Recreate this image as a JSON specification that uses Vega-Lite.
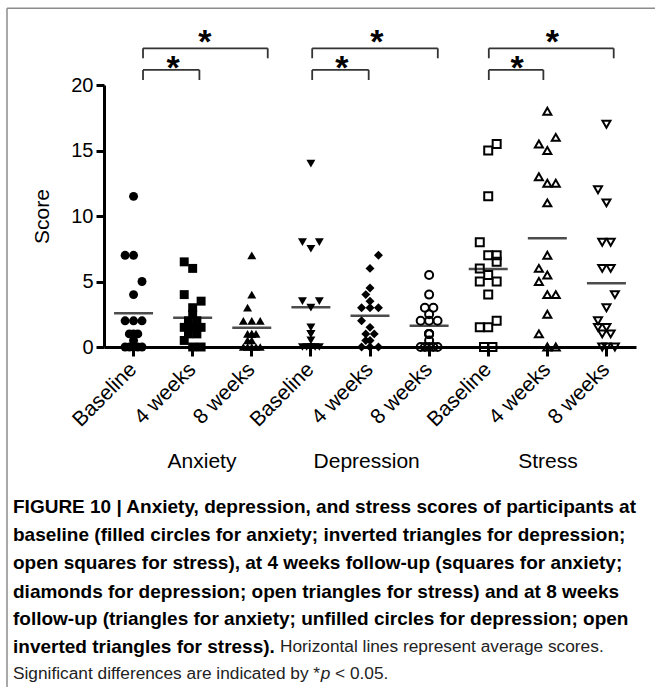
{
  "$schema": "https://vega.github.io/schema/vega-lite/v6.json",
  "width": 532,
  "height": 262,
  "autosize": {"type": "none"},
  "padding": {"left": 104, "top": 85, "right": 19, "bottom": 340},
  "background": "white",
  "config": {"font": "Liberation Sans", "view": {"stroke": null}},
  "datasets": {
    "scores": [
      {"measure":"Anxiety","time":"Baseline","score":11.5,"slot":0},
      {"measure":"Anxiety","time":"Baseline","score":7,"slot":-2},
      {"measure":"Anxiety","time":"Baseline","score":7,"slot":0},
      {"measure":"Anxiety","time":"Baseline","score":5,"slot":2},
      {"measure":"Anxiety","time":"Baseline","score":4,"slot":0},
      {"measure":"Anxiety","time":"Baseline","score":2,"slot":-2},
      {"measure":"Anxiety","time":"Baseline","score":2,"slot":0},
      {"measure":"Anxiety","time":"Baseline","score":2,"slot":2},
      {"measure":"Anxiety","time":"Baseline","score":1,"slot":0},
      {"measure":"Anxiety","time":"Baseline","score":1,"slot":-1},
      {"measure":"Anxiety","time":"Baseline","score":1,"slot":1},
      {"measure":"Anxiety","time":"Baseline","score":0.5,"slot":0},
      {"measure":"Anxiety","time":"Baseline","score":0,"slot":-2},
      {"measure":"Anxiety","time":"Baseline","score":0,"slot":0},
      {"measure":"Anxiety","time":"Baseline","score":0,"slot":2},
      {"measure":"Anxiety","time":"Baseline","score":0,"slot":-1},
      {"measure":"Anxiety","time":"Baseline","score":0,"slot":1},
      {"measure":"Anxiety","time":"4 weeks","score":6.5,"slot":-2},
      {"measure":"Anxiety","time":"4 weeks","score":6,"slot":0},
      {"measure":"Anxiety","time":"4 weeks","score":4,"slot":-2},
      {"measure":"Anxiety","time":"4 weeks","score":3.5,"slot":2},
      {"measure":"Anxiety","time":"4 weeks","score":3,"slot":0},
      {"measure":"Anxiety","time":"4 weeks","score":2.5,"slot":0},
      {"measure":"Anxiety","time":"4 weeks","score":2,"slot":-1},
      {"measure":"Anxiety","time":"4 weeks","score":2,"slot":1},
      {"measure":"Anxiety","time":"4 weeks","score":1.5,"slot":-2},
      {"measure":"Anxiety","time":"4 weeks","score":1.5,"slot":2},
      {"measure":"Anxiety","time":"4 weeks","score":1.5,"slot":0},
      {"measure":"Anxiety","time":"4 weeks","score":1.5,"slot":0},
      {"measure":"Anxiety","time":"4 weeks","score":1,"slot":1},
      {"measure":"Anxiety","time":"4 weeks","score":1,"slot":-1},
      {"measure":"Anxiety","time":"4 weeks","score":0.5,"slot":-2},
      {"measure":"Anxiety","time":"4 weeks","score":0,"slot":0},
      {"measure":"Anxiety","time":"4 weeks","score":0,"slot":2},
      {"measure":"Anxiety","time":"8 weeks","score":7,"slot":0},
      {"measure":"Anxiety","time":"8 weeks","score":4,"slot":0},
      {"measure":"Anxiety","time":"8 weeks","score":3,"slot":-1},
      {"measure":"Anxiety","time":"8 weeks","score":2,"slot":-2},
      {"measure":"Anxiety","time":"8 weeks","score":2,"slot":0},
      {"measure":"Anxiety","time":"8 weeks","score":2,"slot":2},
      {"measure":"Anxiety","time":"8 weeks","score":1,"slot":0},
      {"measure":"Anxiety","time":"8 weeks","score":1,"slot":-1},
      {"measure":"Anxiety","time":"8 weeks","score":1,"slot":1},
      {"measure":"Anxiety","time":"8 weeks","score":1,"slot":0},
      {"measure":"Anxiety","time":"8 weeks","score":0.5,"slot":0},
      {"measure":"Anxiety","time":"8 weeks","score":0.5,"slot":-1},
      {"measure":"Anxiety","time":"8 weeks","score":0,"slot":-2},
      {"measure":"Anxiety","time":"8 weeks","score":0,"slot":0},
      {"measure":"Anxiety","time":"8 weeks","score":0,"slot":2},
      {"measure":"Anxiety","time":"8 weeks","score":0,"slot":-1},
      {"measure":"Anxiety","time":"8 weeks","score":0,"slot":1},
      {"measure":"Depression","time":"Baseline","score":14,"slot":0},
      {"measure":"Depression","time":"Baseline","score":8,"slot":-2},
      {"measure":"Depression","time":"Baseline","score":8,"slot":2},
      {"measure":"Depression","time":"Baseline","score":7.5,"slot":0},
      {"measure":"Depression","time":"Baseline","score":3.5,"slot":-2},
      {"measure":"Depression","time":"Baseline","score":3.5,"slot":2},
      {"measure":"Depression","time":"Baseline","score":3,"slot":0},
      {"measure":"Depression","time":"Baseline","score":1.5,"slot":0},
      {"measure":"Depression","time":"Baseline","score":1,"slot":0},
      {"measure":"Depression","time":"Baseline","score":1,"slot":0},
      {"measure":"Depression","time":"Baseline","score":0.5,"slot":0},
      {"measure":"Depression","time":"Baseline","score":0,"slot":-2},
      {"measure":"Depression","time":"Baseline","score":0,"slot":-1},
      {"measure":"Depression","time":"Baseline","score":0,"slot":0},
      {"measure":"Depression","time":"Baseline","score":0,"slot":1},
      {"measure":"Depression","time":"Baseline","score":0,"slot":2},
      {"measure":"Depression","time":"Baseline","score":0,"slot":0},
      {"measure":"Depression","time":"4 weeks","score":7,"slot":2},
      {"measure":"Depression","time":"4 weeks","score":6,"slot":0},
      {"measure":"Depression","time":"4 weeks","score":4.5,"slot":0},
      {"measure":"Depression","time":"4 weeks","score":4,"slot":-1},
      {"measure":"Depression","time":"4 weeks","score":3.5,"slot":0},
      {"measure":"Depression","time":"4 weeks","score":3,"slot":-2},
      {"measure":"Depression","time":"4 weeks","score":3,"slot":2},
      {"measure":"Depression","time":"4 weeks","score":3,"slot":0},
      {"measure":"Depression","time":"4 weeks","score":2,"slot":-2},
      {"measure":"Depression","time":"4 weeks","score":1.5,"slot":0},
      {"measure":"Depression","time":"4 weeks","score":1,"slot":-1},
      {"measure":"Depression","time":"4 weeks","score":1,"slot":1},
      {"measure":"Depression","time":"4 weeks","score":0.5,"slot":0},
      {"measure":"Depression","time":"4 weeks","score":0.5,"slot":-1},
      {"measure":"Depression","time":"4 weeks","score":0,"slot":-2},
      {"measure":"Depression","time":"4 weeks","score":0,"slot":0},
      {"measure":"Depression","time":"4 weeks","score":0,"slot":2},
      {"measure":"Depression","time":"8 weeks","score":5.5,"slot":0},
      {"measure":"Depression","time":"8 weeks","score":4,"slot":0},
      {"measure":"Depression","time":"8 weeks","score":3,"slot":-1},
      {"measure":"Depression","time":"8 weeks","score":3,"slot":1},
      {"measure":"Depression","time":"8 weeks","score":2.5,"slot":0},
      {"measure":"Depression","time":"8 weeks","score":2,"slot":-2},
      {"measure":"Depression","time":"8 weeks","score":2,"slot":0},
      {"measure":"Depression","time":"8 weeks","score":2,"slot":2},
      {"measure":"Depression","time":"8 weeks","score":1,"slot":0},
      {"measure":"Depression","time":"8 weeks","score":1,"slot":0},
      {"measure":"Depression","time":"8 weeks","score":1,"slot":0},
      {"measure":"Depression","time":"8 weeks","score":0.5,"slot":0},
      {"measure":"Depression","time":"8 weeks","score":0,"slot":-2},
      {"measure":"Depression","time":"8 weeks","score":0,"slot":-1},
      {"measure":"Depression","time":"8 weeks","score":0,"slot":0},
      {"measure":"Depression","time":"8 weeks","score":0,"slot":1},
      {"measure":"Depression","time":"8 weeks","score":0,"slot":2},
      {"measure":"Stress","time":"Baseline","score":15.5,"slot":2},
      {"measure":"Stress","time":"Baseline","score":15,"slot":0},
      {"measure":"Stress","time":"Baseline","score":11.5,"slot":0},
      {"measure":"Stress","time":"Baseline","score":8,"slot":-2},
      {"measure":"Stress","time":"Baseline","score":7,"slot":0},
      {"measure":"Stress","time":"Baseline","score":7,"slot":2},
      {"measure":"Stress","time":"Baseline","score":6.5,"slot":2},
      {"measure":"Stress","time":"Baseline","score":6,"slot":-2},
      {"measure":"Stress","time":"Baseline","score":5.5,"slot":0},
      {"measure":"Stress","time":"Baseline","score":5,"slot":-2},
      {"measure":"Stress","time":"Baseline","score":5,"slot":2},
      {"measure":"Stress","time":"Baseline","score":4,"slot":0},
      {"measure":"Stress","time":"Baseline","score":2,"slot":2},
      {"measure":"Stress","time":"Baseline","score":1.5,"slot":-2},
      {"measure":"Stress","time":"Baseline","score":1.5,"slot":0},
      {"measure":"Stress","time":"Baseline","score":0,"slot":-1},
      {"measure":"Stress","time":"Baseline","score":0,"slot":1},
      {"measure":"Stress","time":"4 weeks","score":18,"slot":0},
      {"measure":"Stress","time":"4 weeks","score":16,"slot":2},
      {"measure":"Stress","time":"4 weeks","score":15.5,"slot":-2},
      {"measure":"Stress","time":"4 weeks","score":15,"slot":0},
      {"measure":"Stress","time":"4 weeks","score":13,"slot":-2},
      {"measure":"Stress","time":"4 weeks","score":12.5,"slot":0},
      {"measure":"Stress","time":"4 weeks","score":12.5,"slot":2},
      {"measure":"Stress","time":"4 weeks","score":11,"slot":0},
      {"measure":"Stress","time":"4 weeks","score":7,"slot":0},
      {"measure":"Stress","time":"4 weeks","score":6,"slot":-2},
      {"measure":"Stress","time":"4 weeks","score":5.5,"slot":0},
      {"measure":"Stress","time":"4 weeks","score":5,"slot":-2},
      {"measure":"Stress","time":"4 weeks","score":4,"slot":0},
      {"measure":"Stress","time":"4 weeks","score":4,"slot":2},
      {"measure":"Stress","time":"4 weeks","score":2.5,"slot":0},
      {"measure":"Stress","time":"4 weeks","score":1,"slot":-2},
      {"measure":"Stress","time":"4 weeks","score":0,"slot":0},
      {"measure":"Stress","time":"4 weeks","score":0,"slot":2},
      {"measure":"Stress","time":"8 weeks","score":17,"slot":0},
      {"measure":"Stress","time":"8 weeks","score":12,"slot":-2},
      {"measure":"Stress","time":"8 weeks","score":11,"slot":0},
      {"measure":"Stress","time":"8 weeks","score":8,"slot":-1},
      {"measure":"Stress","time":"8 weeks","score":8,"slot":1},
      {"measure":"Stress","time":"8 weeks","score":6,"slot":-1},
      {"measure":"Stress","time":"8 weeks","score":6,"slot":1},
      {"measure":"Stress","time":"8 weeks","score":4,"slot":2},
      {"measure":"Stress","time":"8 weeks","score":3,"slot":0},
      {"measure":"Stress","time":"8 weeks","score":2,"slot":-2},
      {"measure":"Stress","time":"8 weeks","score":1.5,"slot":-2},
      {"measure":"Stress","time":"8 weeks","score":1.5,"slot":0},
      {"measure":"Stress","time":"8 weeks","score":1,"slot":-1},
      {"measure":"Stress","time":"8 weeks","score":1,"slot":1},
      {"measure":"Stress","time":"8 weeks","score":0,"slot":0},
      {"measure":"Stress","time":"8 weeks","score":0,"slot":2},
      {"measure":"Stress","time":"8 weeks","score":0,"slot":-1}
    ],
    "means": [
      {"measure":"Anxiety","time":"Baseline","score":2.57},
      {"measure":"Anxiety","time":"4 weeks","score":2.24},
      {"measure":"Anxiety","time":"8 weeks","score":1.47},
      {"measure":"Depression","time":"Baseline","score":3.03},
      {"measure":"Depression","time":"4 weeks","score":2.39},
      {"measure":"Depression","time":"8 weeks","score":1.63},
      {"measure":"Stress","time":"Baseline","score":5.95},
      {"measure":"Stress","time":"4 weeks","score":8.3},
      {"measure":"Stress","time":"8 weeks","score":4.86}
    ],
    "frame": [
      {"edge":"top","x":-1.141,"x2":9.821,"y":25.855,"y2":25.855},
      {"edge":"left","x":-1.141,"x2":-1.141,"y":25.855,"y2":-25.95}
    ],
    "brackets": [
      {"measure":"Anxiety","pair":"Baseline vs 8 weeks","sig":"*","x1":1.16,"x2":3.27,"y":22.8,"leg":22.04,"xs":2.205,"ys":22.45},
      {"measure":"Anxiety","pair":"Baseline vs 4 weeks","sig":"*","x1":1.16,"x2":2.114,"y":21.15,"leg":20.38,"xs":1.671,"ys":20.42},
      {"measure":"Depression","pair":"Baseline vs 8 weeks","sig":"*","x1":4.022,"x2":6.147,"y":22.8,"leg":22.04,"xs":5.118,"ys":22.45},
      {"measure":"Depression","pair":"Baseline vs 4 weeks","sig":"*","x1":4.022,"x2":4.978,"y":21.15,"leg":20.38,"xs":4.526,"ys":20.42},
      {"measure":"Stress","pair":"Baseline vs 8 weeks","sig":"*","x1":7.01,"x2":9.123,"y":22.8,"leg":22.04,"xs":8.087,"ys":22.45},
      {"measure":"Stress","pair":"Baseline vs 4 weeks","sig":"*","x1":7.01,"x2":7.933,"y":21.15,"leg":20.38,"xs":7.487,"ys":20.42}
    ],
    "groups": [
      {"text":"Anxiety","x":2.158,"y":-8.756},
      {"text":"Depression","x":4.944,"y":-8.756},
      {"text":"Stress","x":8.011,"y":-8.756}
    ],
    "caption_bold": [
      {"line":1,"text":"FIGURE 10 | Anxiety, depression, and stress scores of participants at","x":-1.0395,"y":-12.19},
      {"line":2,"text":"baseline (filled circles for anxiety; inverted triangles for depression;","x":-1.0395,"y":-14.35},
      {"line":3,"text":"open squares for stress), at 4 weeks follow-up (squares for anxiety;","x":-1.0395,"y":-16.51},
      {"line":4,"text":"diamonds for depression; open triangles for stress) and at 8 weeks","x":-1.0395,"y":-18.68},
      {"line":5,"text":"follow-up (triangles for anxiety; unfilled circles for depression; open","x":-1.0395,"y":-20.79},
      {"line":6,"text":"inverted triangles for stress).","x":-1.0395,"y":-22.92}
    ],
    "caption_plain": [
      {"line":6,"text":"Horizontal lines represent average scores.","x":3.477,"y":-22.92},
      {"line":7,"text":"Significant differences are indicated by *","x":-1.0395,"y":-24.98},
      {"line":7,"text":"< 0.05.","x":4.409,"y":-24.98}
    ],
    "caption_italic": [
      {"line":7,"text":"p","x":4.166,"y":-24.98}
    ]
  },
  "resolve": {"scale": {"x": "independent", "y": "independent"}, "axis": {"x": "independent", "y": "independent"}},
  "layer": [
    {
      "layer": [
        {
          "data": {"name": "scores"},
          "transform": [
            {"calculate": "datum.measure + '|' + datum.time", "as": "cat"},
            {"filter": "datum.measure == 'Anxiety' || (datum.measure == 'Depression' && datum.time != '8 weeks')"}
          ],
          "mark": {"type": "point", "filled": true, "size": 80, "color": "black", "opacity": 1},
          "encoding": {
            "x": {
              "field": "cat", "type": "nominal",
              "scale": {"domain": ["Anxiety|Baseline","Anxiety|4 weeks","Anxiety|8 weeks","Depression|Baseline","Depression|4 weeks","Depression|8 weeks","Stress|Baseline","Stress|4 weeks","Stress|8 weeks"], "paddingInner": 0, "paddingOuter": 0},
              "axis": {"title": null, "bandPosition": 0.5, "labelExpr": "split(datum.value, '|')[1]", "labelAngle": -45, "labelAlign": "right", "labelBaseline": "middle", "labelFontSize": 21, "labelColor": "black", "labelPadding": 10, "tickSize": 9, "tickWidth": 3, "tickColor": "black", "domainWidth": 3, "domainColor": "black", "grid": false}
            },
            "xOffset": {"field": "slot", "type": "quantitative", "scale": {"domain": [-7, 7]}},
            "y": {
              "field": "score", "type": "quantitative", "title": "Score",
              "scale": {"domain": [0, 20], "nice": false},
              "axis": {"title": "Score", "values": [0, 5, 10, 15, 20], "labelFontSize": 20, "labelColor": "black", "labelPadding": 3, "tickSize": 8, "tickWidth": 3, "tickColor": "black", "domainWidth": 3, "domainColor": "black", "grid": false, "titleFontSize": 21, "titleFontWeight": "normal", "titleColor": "black", "titlePadding": 18}
            },
            "shape": {
              "field": "cat", "type": "nominal", "legend": null,
              "scale": {"domain": ["Anxiety|Baseline","Anxiety|4 weeks","Anxiety|8 weeks","Depression|Baseline","Depression|4 weeks","Depression|8 weeks","Stress|Baseline","Stress|4 weeks","Stress|8 weeks"], "range": ["circle","square","triangle-up","triangle-down","diamond","circle","square","triangle-up","triangle-down"]}
            }
          }
        },
        {
          "data": {"name": "scores"},
          "transform": [
            {"calculate": "datum.measure + '|' + datum.time", "as": "cat"},
            {"filter": "datum.measure == 'Stress' || (datum.measure == 'Depression' && datum.time == '8 weeks')"}
          ],
          "mark": {"type": "point", "filled": false, "size": 64, "strokeWidth": 2, "color": "black", "opacity": 1},
          "encoding": {
            "x": {"field": "cat", "type": "nominal", "title": null},
            "xOffset": {"field": "slot", "type": "quantitative", "scale": {"domain": [-7, 7]}},
            "y": {"field": "score", "type": "quantitative", "title": "Score"},
            "shape": {"field": "cat", "type": "nominal", "legend": null}
          }
        },
        {
          "data": {"name": "means"},
          "transform": [{"calculate": "datum.measure + '|' + datum.time", "as": "cat"}],
          "mark": {"type": "tick", "orient": "horizontal", "size": 39, "thickness": 2.5, "color": "black"},
          "encoding": {
            "x": {"field": "cat", "type": "nominal", "title": null},
            "y": {"field": "score", "type": "quantitative", "title": "Score"}
          }
        }
      ]
    },
    {
      "layer": [
        {
          "data": {"name": "frame"},
          "mark": {"type": "rule", "color": "#8c8c8c", "strokeWidth": 1.5},
          "encoding": {
            "x": {"field": "x", "type": "quantitative", "scale": {"domain": [0.5, 9.5], "nice": false, "zero": false}, "axis": null},
            "x2": {"field": "x2"},
            "y": {"field": "y", "type": "quantitative", "scale": {"domain": [0, 20], "nice": false}, "axis": null},
            "y2": {"field": "y2"}
          }
        },
        {
          "data": {"name": "brackets"},
          "mark": {"type": "rule", "color": "#333333", "strokeWidth": 1.8},
          "encoding": {
            "x": {"field": "x1", "type": "quantitative", "axis": null},
            "x2": {"field": "x2"},
            "y": {"field": "y", "type": "quantitative", "axis": null}
          }
        },
        {
          "data": {"name": "brackets"},
          "mark": {"type": "rule", "color": "#333333", "strokeWidth": 1.8},
          "encoding": {
            "x": {"field": "x1", "type": "quantitative", "axis": null},
            "y": {"field": "y", "type": "quantitative", "axis": null},
            "y2": {"field": "leg"}
          }
        },
        {
          "data": {"name": "brackets"},
          "mark": {"type": "rule", "color": "#333333", "strokeWidth": 1.8},
          "encoding": {
            "x": {"field": "x2", "type": "quantitative", "axis": null},
            "y": {"field": "y", "type": "quantitative", "axis": null},
            "y2": {"field": "leg"}
          }
        },
        {
          "data": {"name": "brackets"},
          "mark": {"type": "text", "fontSize": 34, "fontWeight": "bold", "align": "center", "baseline": "alphabetic", "color": "black"},
          "encoding": {
            "x": {"field": "xs", "type": "quantitative", "axis": null},
            "y": {"field": "ys", "type": "quantitative", "axis": null},
            "text": {"field": "sig"}
          }
        },
        {
          "data": {"name": "groups"},
          "mark": {"type": "text", "fontSize": 21, "align": "center", "baseline": "middle", "color": "black"},
          "encoding": {
            "x": {"field": "x", "type": "quantitative", "axis": null},
            "y": {"field": "y", "type": "quantitative", "axis": null},
            "text": {"field": "text"}
          }
        },
        {
          "data": {"name": "caption_bold"},
          "mark": {"type": "text", "fontSize": 19, "fontWeight": "bold", "align": "left", "baseline": "middle", "color": "black"},
          "encoding": {
            "x": {"field": "x", "type": "quantitative", "axis": null},
            "y": {"field": "y", "type": "quantitative", "axis": null},
            "text": {"field": "text"}
          }
        },
        {
          "data": {"name": "caption_plain"},
          "mark": {"type": "text", "fontSize": 17.3, "fontWeight": "normal", "align": "left", "baseline": "middle", "color": "#222222"},
          "encoding": {
            "x": {"field": "x", "type": "quantitative", "axis": null},
            "y": {"field": "y", "type": "quantitative", "axis": null},
            "text": {"field": "text"}
          }
        },
        {
          "data": {"name": "caption_italic"},
          "mark": {"type": "text", "fontSize": 17.3, "fontStyle": "italic", "align": "left", "baseline": "middle", "color": "#222222"},
          "encoding": {
            "x": {"field": "x", "type": "quantitative", "axis": null},
            "y": {"field": "y", "type": "quantitative", "axis": null},
            "text": {"field": "text"}
          }
        }
      ]
    }
  ]
}
